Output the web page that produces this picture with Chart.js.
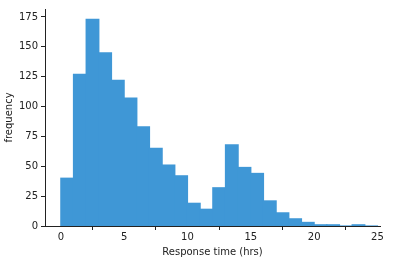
<!DOCTYPE html>
<html>
<head>
<meta charset="utf-8">
<script src="https://cdn.jsdelivr.net/npm/chart.js@4/dist/chart.umd.min.js"></script>
<style>
  html, body { margin: 0; padding: 0; background: #fff; }
  #wrap { width: 394px; height: 262px; }
</style>
</head>
<body>
<div id="wrap"><canvas id="hist"></canvas></div>
<script>
// histogram bins (1 hr wide) and counts
const binStarts = [0, 1, 2, 3, 4, 5, 6, 7, 8, 9, 10, 11, 12, 13, 14, 15, 16, 17, 18, 19, 20, 21, 22, 23, 24];
const counts = [40, 127, 173, 145, 122, 107, 83, 65, 51, 42, 19, 14, 32, 68, 49, 44, 21, 11, 6, 3, 1, 1, 0, 1, 0];
const xTicks = [0, 5, 10, 15, 20, 25];
const yTicks = [0, 25, 50, 75, 100, 125, 150, 175];

const points = binStarts.map((b, i) => ({ x: b + 0.5, y: counts[i] }));
const font = { family: 'DejaVu Sans', size: 10 };

new Chart(document.getElementById('hist'), {
    type: 'bar',
    data: {
        datasets: [{
            data: points,
            backgroundColor: '#3f97d6',
            borderWidth: 0,
            inflateAmount: 0.6,
            barPercentage: 1,
            categoryPercentage: 1
        }]
    },
    options: {
        responsive: true,
        maintainAspectRatio: false,
        animation: false,
        layout: { padding: { top: 8, right: 14, left: 0, bottom: 0 } },
        plugins: { legend: { display: false }, tooltip: { enabled: false } },
        scales: {
            x: {
                type: 'linear',
                offset: false,
                min: -1.25,
                max: 25.2,
                afterBuildTicks: s => { s.ticks = xTicks.map(v => ({ value: v })); },
                afterFit: s => { s.height = 36; },
                grid: { drawOnChartArea: false, drawTicks: true, tickLength: 4, color: '#222' },
                border: { display: true, color: '#222', width: 1 },
                ticks: { color: '#222', font: font, padding: 1, maxRotation: 0 },
                title: { display: true, text: 'Response time (hrs)', color: '#222', font: font, padding: { top: 0, bottom: 4 } }
            },
            y: {
                min: 0,
                max: 181.65,
                afterBuildTicks: s => { s.ticks = yTicks.map(v => ({ value: v })); },
                afterFit: s => { s.width = 45; },
                grid: { drawOnChartArea: false, drawTicks: true, tickLength: 4, color: '#222' },
                border: { display: true, color: '#222', width: 1 },
                ticks: { color: '#222', font: font, padding: 3 },
                title: { display: true, text: 'frequency', color: '#222', font: font, padding: { top: 3, bottom: 0 } }
            }
        }
    }
});
</script>
</body>
</html>
